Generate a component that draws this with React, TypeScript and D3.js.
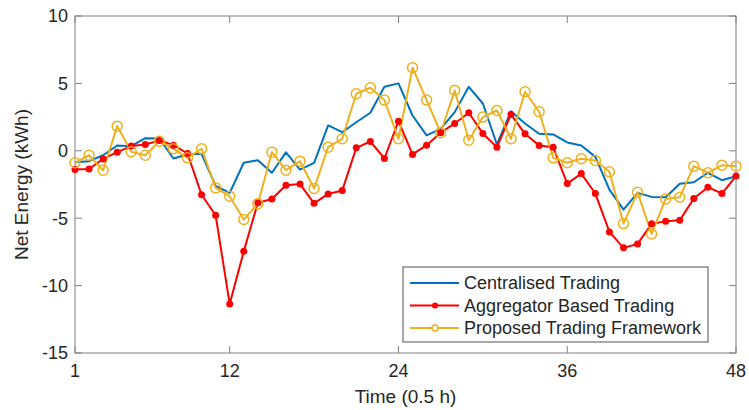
import React, { useEffect, useRef } from 'react';
import * as d3 from 'd3';

const slots = d3.range(1, 49);

const centralised = [
  -0.85, -0.77, -0.33, 0.39, 0.34, 0.94, 0.91, -0.57, -0.27, -0.22,
  -2.6, -3.12, -0.89, -0.7, -1.63, -0.12, -1.39, -0.89, 1.88, 1.38,
  2.12, 2.82, 4.75, 5.0, 2.62, 1.14, 1.63, 2.87, 4.75, 3.51,
  0.47, 2.94, 2.03, 1.26, 1.21, 0.62, 0.39, -0.45, -2.88, -4.36,
  -3.12, -3.42, -3.45, -2.45, -2.33, -1.63, -2.18, -1.89,
];

const aggregator = [
  -1.39, -1.35, -0.6, -0.1, 0.35, 0.47, 0.77, 0.42, -0.2, -3.26,
  -4.78, -11.37, -7.46, -3.86, -3.58, -2.55, -2.47, -3.9, -3.2, -2.95,
  0.22, 0.69, -0.57, 2.2, -0.27, 0.42, 1.34, 2.03, 2.82, 1.29,
  0.27, 2.7, 1.26, 0.39, 0.27, -2.43, -1.69, -3.17, -6.02, -7.2,
  -6.91, -5.42, -5.23, -5.16, -3.54, -2.7, -3.17, -1.87,
];

const proposed = [
  -0.89, -0.33, -1.44, 1.83, -0.07, -0.33, 0.71, 0.15, -0.52, 0.15,
  -2.75, -3.37, -5.1, -3.92, -0.1, -1.44, -0.77, -2.8, 0.27, 0.89,
  4.23, 4.68, 3.76, 0.89, 6.17, 3.76, 1.34, 4.48, 0.79, 2.5,
  2.99, 0.89, 4.38, 2.9, -0.52, -0.89, -0.59, -0.72, -1.56, -5.4,
  -3.08, -6.17, -3.57, -3.45, -1.14, -1.63, -1.07, -1.14,
];

const xTicks = [1, 12, 24, 36, 48];
const yTicks = [-15, -10, -5, 0, 5, 10];

const seriesNames = ['Centralised Trading', 'Aggregator Based Trading', 'Proposed Trading Framework'];
const seriesColors = ['#0072BD', '#FF0000', '#EDB120'];

const App = () => {
  const svgRef = useRef<SVGSVGElement>(null);

  useEffect(() => {
    const width = 749;
    const height = 410;
    const margin = { top: 16, right: 13, bottom: 57, left: 75 };
    const innerW = width - margin.left - margin.right;
    const innerH = height - margin.top - margin.bottom;
    const font = 'Arial, "Liberation Sans", Helvetica, sans-serif';
    const axisColor = '#262626';

    const root = d3.select(svgRef.current)
      .attr('width', width)
      .attr('height', height);
    root.selectAll('*').remove();

    const svg = root.append('g')
      .attr('transform', `translate(${margin.left},${margin.top})`);

    const x = d3.scaleLinear().domain([1, 48]).range([0, innerW]);
    const y = d3.scaleLinear().domain([-15, 10]).range([innerH, 0]);

    // box
    svg.append('rect')
      .attr('width', innerW)
      .attr('height', innerH)
      .attr('fill', 'white')
      .attr('stroke', '#808080')
      .attr('stroke-width', 1);

    const tickLen = 7;
    // x ticks bottom + top
    xTicks.forEach(t => {
      svg.append('line').attr('x1', x(t)).attr('x2', x(t)).attr('y1', innerH).attr('y2', innerH - tickLen)
        .attr('stroke', '#808080');
      svg.append('line').attr('x1', x(t)).attr('x2', x(t)).attr('y1', 0).attr('y2', tickLen)
        .attr('stroke', '#808080');
      svg.append('text')
        .attr('x', x(t))
        .attr('y', innerH + 24)
        .attr('text-anchor', 'middle')
        .attr('font-family', font)
        .attr('font-size', 18)
        .attr('fill', axisColor)
        .text(t);
    });

    yTicks.forEach(t => {
      svg.append('line').attr('x1', 0).attr('x2', tickLen).attr('y1', y(t)).attr('y2', y(t))
        .attr('stroke', '#808080');
      svg.append('line').attr('x1', innerW).attr('x2', innerW - tickLen).attr('y1', y(t)).attr('y2', y(t))
        .attr('stroke', '#808080');
      svg.append('text')
        .attr('x', -7)
        .attr('y', y(t))
        .attr('dy', '0.36em')
        .attr('text-anchor', 'end')
        .attr('font-family', font)
        .attr('font-size', 18)
        .attr('fill', axisColor)
        .text(t);
    });

    // axis titles
    svg.append('text')
      .attr('x', innerW / 2)
      .attr('y', innerH + 50)
      .attr('text-anchor', 'middle')
      .attr('font-family', font)
      .attr('font-size', 19)
      .attr('fill', axisColor)
      .text('Time (0.5 h)');

    svg.append('text')
      .attr('transform', `translate(${-47},${innerH / 2}) rotate(-90)`)
      .attr('text-anchor', 'middle')
      .attr('font-family', font)
      .attr('font-size', 19)
      .attr('fill', axisColor)
      .text('Net Energy (kWh)');

    const line = d3.line<number>()
      .x((d, i) => x(slots[i]))
      .y(d => y(d));

    const allSeries = [centralised, aggregator, proposed];
    allSeries.forEach((s, k) => {
      svg.append('path')
        .datum(s)
        .attr('fill', 'none')
        .attr('stroke', seriesColors[k])
        .attr('stroke-width', 2)
        .attr('stroke-linejoin', 'round')
        .attr('d', line);
    });

    svg.selectAll('.dot-agg')
      .data(aggregator)
      .enter().append('circle')
      .attr('class', 'dot-agg')
      .attr('cx', (d, i) => x(slots[i]))
      .attr('cy', d => y(d))
      .attr('r', 3.5)
      .attr('fill', seriesColors[1]);

    svg.selectAll('.dot-prop')
      .data(proposed)
      .enter().append('circle')
      .attr('class', 'dot-prop')
      .attr('cx', (d, i) => x(slots[i]))
      .attr('cy', d => y(d))
      .attr('r', 5)
      .attr('fill', 'none')
      .attr('stroke', seriesColors[2])
      .attr('stroke-width', 1.5);

    // legend
    const lg = svg.append('g').attr('transform', `translate(${403 - margin.left},${267 - margin.top})`);
    lg.append('rect')
      .attr('width', 305)
      .attr('height', 75)
      .attr('fill', 'white')
      .attr('stroke', axisColor)
      .attr('stroke-width', 0.8);

    seriesNames.forEach((name, k) => {
      const ly = 16 + k * 22.5;
      lg.append('line')
        .attr('x1', 7).attr('x2', 56)
        .attr('y1', ly).attr('y2', ly)
        .attr('stroke', seriesColors[k])
        .attr('stroke-width', 2);
      if (k === 1) {
        lg.append('circle').attr('cx', 32).attr('cy', ly).attr('r', 3).attr('fill', seriesColors[1]);
      }
      if (k === 2) {
        lg.append('circle').attr('cx', 32).attr('cy', ly).attr('r', 3)
          .attr('fill', 'white').attr('stroke', seriesColors[2]).attr('stroke-width', 1.5);
      }
      lg.append('text')
        .attr('x', 61)
        .attr('y', ly)
        .attr('dy', '0.36em')
        .attr('font-family', font)
        .attr('font-size', 18)
        .attr('fill', axisColor)
        .text(name);
    });

    return () => {
      root.selectAll('*').remove();
    };
  }, []);

  return (
    <svg ref={svgRef} style={{ position: 'absolute', left: 0, top: 0 }} />
  );
};

export default App;
